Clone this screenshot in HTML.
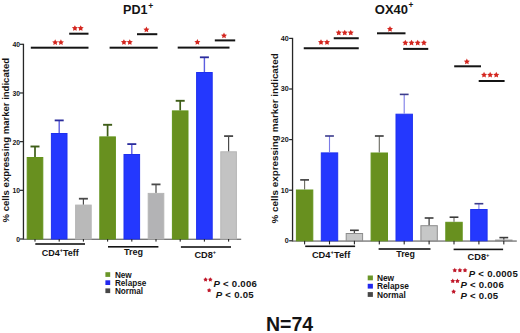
<!DOCTYPE html><html><head><meta charset="utf-8"><title>PD1 / OX40 expression</title><style>html,body{margin:0;padding:0;background:#fff;width:520px;height:333px;overflow:hidden}svg{display:block}text{font-family:"Liberation Sans", sans-serif}</style></head><body>
<svg width="520" height="333" viewBox="0 0 520 333">
<rect width="520" height="333" fill="#fff"/>
<rect x="22.80" y="43.70" width="1.3" height="195.90" fill="#262626"/>
<rect x="20.00" y="43.70" width="3" height="1.2" fill="#262626"/>
<text x="20.00" y="47.20" font-size="6.80" font-weight="bold" font-style="normal" text-anchor="end" fill="#141414" >40</text>
<rect x="20.00" y="92.38" width="3" height="1.2" fill="#262626"/>
<text x="20.00" y="95.88" font-size="6.80" font-weight="bold" font-style="normal" text-anchor="end" fill="#141414" >30</text>
<rect x="20.00" y="141.05" width="3" height="1.2" fill="#262626"/>
<text x="20.00" y="144.55" font-size="6.80" font-weight="bold" font-style="normal" text-anchor="end" fill="#141414" >20</text>
<rect x="20.00" y="189.72" width="3" height="1.2" fill="#262626"/>
<text x="20.00" y="193.22" font-size="6.80" font-weight="bold" font-style="normal" text-anchor="end" fill="#141414" >10</text>
<rect x="20.00" y="238.40" width="3" height="1.2" fill="#262626"/>
<text x="20.00" y="241.90" font-size="6.80" font-weight="bold" font-style="normal" text-anchor="end" fill="#141414" >0</text>
<rect x="23.00" y="238.70" width="218.20" height="1.1" fill="#5a5a5a"/>
<rect x="27.20" y="157.50" width="15.60" height="81.50" fill="#68901f" stroke="#63931b" stroke-width="1"/><rect x="34.15" y="146.50" width="1.70" height="10.50" fill="#3f5e18"/><rect x="30.50" y="145.55" width="9.00" height="1.90" fill="#3f5e18"/>
<rect x="34.45" y="239.00" width="1.1" height="2.60" fill="#262626"/>
<rect x="51.40" y="133.50" width="15.60" height="105.50" fill="#2438fe" stroke="#1f31ee" stroke-width="1"/><rect x="58.50" y="120.40" width="1.40" height="12.60" fill="#5c5ee0"/><rect x="54.70" y="119.50" width="9.00" height="1.80" fill="#2a2c9c"/>
<rect x="58.65" y="239.00" width="1.1" height="2.60" fill="#262626"/>
<rect x="75.60" y="205.10" width="15.60" height="33.90" fill="#b9b9b9" stroke="#b6b6b6" stroke-width="1"/><rect x="82.80" y="198.70" width="1.20" height="5.90" fill="#4a4a4a"/><rect x="78.90" y="197.80" width="9.00" height="1.80" fill="#4a4a4a"/>
<rect x="82.85" y="239.00" width="1.1" height="2.60" fill="#262626"/>
<rect x="99.80" y="136.90" width="15.60" height="102.10" fill="#68901f" stroke="#63931b" stroke-width="1"/><rect x="106.75" y="124.80" width="1.70" height="11.60" fill="#3f5e18"/><rect x="103.10" y="123.85" width="9.00" height="1.90" fill="#3f5e18"/>
<rect x="107.05" y="239.00" width="1.1" height="2.60" fill="#262626"/>
<rect x="124.00" y="154.50" width="15.60" height="84.50" fill="#2438fe" stroke="#1f31ee" stroke-width="1"/><rect x="131.10" y="144.10" width="1.40" height="9.90" fill="#5c5ee0"/><rect x="127.30" y="143.20" width="9.00" height="1.80" fill="#2a2c9c"/>
<rect x="131.25" y="239.00" width="1.1" height="2.60" fill="#262626"/>
<rect x="148.20" y="193.40" width="15.60" height="45.60" fill="#b3b3b5" stroke="#b6b6b6" stroke-width="1"/><rect x="155.40" y="184.40" width="1.20" height="8.50" fill="#4a4a4a"/><rect x="151.50" y="183.50" width="9.00" height="1.80" fill="#4a4a4a"/>
<rect x="155.45" y="239.00" width="1.1" height="2.60" fill="#262626"/>
<rect x="172.40" y="110.90" width="15.60" height="128.10" fill="#68901f" stroke="#63931b" stroke-width="1"/><rect x="179.35" y="100.80" width="1.70" height="9.60" fill="#3f5e18"/><rect x="175.70" y="99.85" width="9.00" height="1.90" fill="#3f5e18"/>
<rect x="179.65" y="239.00" width="1.1" height="2.60" fill="#262626"/>
<rect x="196.60" y="72.50" width="15.60" height="166.50" fill="#2438fe" stroke="#1f31ee" stroke-width="1"/><rect x="203.70" y="57.30" width="1.40" height="14.70" fill="#5c5ee0"/><rect x="199.90" y="56.40" width="9.00" height="1.80" fill="#2a2c9c"/>
<rect x="203.85" y="239.00" width="1.1" height="2.60" fill="#262626"/>
<rect x="220.80" y="151.80" width="15.60" height="87.20" fill="#c3c3c3" stroke="#b6b6b6" stroke-width="1"/><rect x="228.00" y="136.10" width="1.20" height="15.20" fill="#4a4a4a"/><rect x="224.10" y="135.20" width="9.00" height="1.80" fill="#4a4a4a"/>
<rect x="228.05" y="239.00" width="1.1" height="2.60" fill="#262626"/>
<rect x="35.30" y="243.20" width="49.70" height="1.60" fill="#141414"/>
<rect x="108.00" y="246.00" width="50.40" height="1.60" fill="#141414"/>
<rect x="180.90" y="246.20" width="50.10" height="1.60" fill="#141414"/>
<text x="60.30" y="255.60" font-size="9.00" font-weight="bold" font-style="normal" text-anchor="middle" fill="#141414" >CD4<tspan font-size="5.5" dy="-3.2">+</tspan><tspan dy="3.2">Teff</tspan></text>
<text x="133.60" y="254.80" font-size="9.00" font-weight="bold" font-style="normal" text-anchor="middle" fill="#141414" >Treg</text>
<text x="205.30" y="257.50" font-size="9.20" font-weight="bold" font-style="normal" text-anchor="middle" fill="#141414" >CD8<tspan font-size="5.6" dy="-3.3">+</tspan></text>
<rect x="30.80" y="46.70" width="57.70" height="2.00" fill="#141414"/>
<polygon points="55.17,39.37 56.10,41.24 58.17,41.54 56.67,43.00 57.03,45.06 55.17,44.09 53.32,45.06 53.68,43.00 52.18,41.54 54.25,41.24" fill="#d4261f"/><polygon points="60.92,39.37 61.85,41.24 63.92,41.54 62.42,43.00 62.78,45.06 60.92,44.09 59.07,45.06 59.43,43.00 57.93,41.54 60.00,41.24" fill="#d4261f"/>
<rect x="69.20" y="32.70" width="19.30" height="2.00" fill="#141414"/>
<polygon points="74.90,25.17 75.83,27.04 77.90,27.34 76.40,28.80 76.75,30.86 74.90,29.89 73.05,30.86 73.40,28.80 71.90,27.34 73.97,27.04" fill="#d4261f"/><polygon points="80.70,25.17 81.63,27.04 83.70,27.34 82.20,28.80 82.55,30.86 80.70,29.89 78.85,30.86 79.20,28.80 77.70,27.34 79.77,27.04" fill="#d4261f"/>
<rect x="109.60" y="46.70" width="48.10" height="2.00" fill="#141414"/>
<polygon points="123.92,39.16 124.85,41.04 126.92,41.34 125.42,42.80 125.78,44.86 123.92,43.89 122.07,44.86 122.43,42.80 120.93,41.34 123.00,41.04" fill="#d4261f"/><polygon points="129.77,39.16 130.70,41.04 132.77,41.34 131.27,42.80 131.63,44.86 129.77,43.89 127.92,44.86 128.28,42.80 126.78,41.34 128.85,41.04" fill="#d4261f"/>
<rect x="137.00" y="33.20" width="20.30" height="2.00" fill="#141414"/>
<polygon points="146.40,26.57 147.33,28.44 149.40,28.74 147.90,30.20 148.25,32.26 146.40,31.29 144.55,32.26 144.90,30.20 143.40,28.74 145.47,28.44" fill="#d4261f"/>
<rect x="177.70" y="46.60" width="51.80" height="2.00" fill="#141414"/>
<polygon points="197.40,39.02 198.33,40.89 200.40,41.19 198.90,42.65 199.25,44.71 197.40,43.74 195.55,44.71 195.90,42.65 194.40,41.19 196.47,40.89" fill="#d4261f"/>
<rect x="214.80" y="39.40" width="20.40" height="2.00" fill="#141414"/>
<polygon points="224.00,32.62 224.93,34.49 227.00,34.79 225.50,36.25 225.85,38.31 224.00,37.34 222.15,38.31 222.50,36.25 221.00,34.79 223.07,34.49" fill="#d4261f"/>
<text x="123.00" y="14.30" font-size="12.60" font-weight="bold" font-style="normal" text-anchor="start" fill="#141414" >PD1</text>
<text x="148.30" y="8.60" font-size="8.60" font-weight="bold" font-style="normal" text-anchor="start" fill="#141414" >+</text>
<text x="0.00" y="0.00" font-size="9.55" font-weight="bold" font-style="normal" text-anchor="middle" fill="#141414" transform="translate(9.1,140.2) rotate(-90)">% cells expressing marker indicated</text>
<rect x="105.4" y="272.20" width="4.8" height="4.7" fill="#6a9628"/>
<text x="114.90" y="277.50" font-size="8.20" font-weight="bold" font-style="normal" text-anchor="start" fill="#141414" >New</text>
<rect x="105.4" y="280.30" width="4.8" height="4.7" fill="#2228ee"/>
<text x="114.90" y="285.60" font-size="8.20" font-weight="bold" font-style="normal" text-anchor="start" fill="#141414" >Relapse</text>
<rect x="105.4" y="288.40" width="4.8" height="4.7" fill="#474747"/>
<text x="114.90" y="293.70" font-size="8.20" font-weight="bold" font-style="normal" text-anchor="start" fill="#141414" >Normal</text>
<polygon points="205.57,277.24 206.35,278.57 207.86,278.90 206.83,280.05 206.99,281.58 205.57,280.96 204.16,281.58 204.32,280.05 203.29,278.90 204.80,278.57" fill="#c0182a"/><polygon points="210.32,277.24 211.10,278.57 212.61,278.90 211.58,280.05 211.74,281.58 210.32,280.96 208.91,281.58 209.07,280.05 208.04,278.90 209.55,278.57" fill="#c0182a"/>
<text x="213.50" y="286.70" font-size="9.60" font-weight="bold" font-style="normal" text-anchor="start" fill="#141414" letter-spacing="0.25"><tspan font-style="italic">P</tspan> &lt; 0.006</text>
<polygon points="209.15,287.99 209.93,289.32 211.43,289.65 210.41,290.80 210.56,292.33 209.15,291.71 207.74,292.33 207.89,290.80 206.87,289.65 208.37,289.32" fill="#c0182a"/>
<text x="215.80" y="297.70" font-size="9.60" font-weight="bold" font-style="normal" text-anchor="start" fill="#141414" letter-spacing="0.25"><tspan font-style="italic">P</tspan> &lt; 0.05</text>
<rect x="291.90" y="37.80" width="1.3" height="203.60" fill="#262626"/>
<rect x="289.10" y="37.80" width="3" height="1.2" fill="#262626"/>
<text x="288.80" y="40.70" font-size="7.20" font-weight="bold" font-style="normal" text-anchor="end" fill="#141414" >40</text>
<rect x="289.10" y="88.40" width="3" height="1.2" fill="#262626"/>
<text x="288.80" y="91.30" font-size="7.20" font-weight="bold" font-style="normal" text-anchor="end" fill="#141414" >30</text>
<rect x="289.10" y="139.00" width="3" height="1.2" fill="#262626"/>
<text x="288.80" y="141.90" font-size="7.20" font-weight="bold" font-style="normal" text-anchor="end" fill="#141414" >20</text>
<rect x="289.10" y="189.60" width="3" height="1.2" fill="#262626"/>
<text x="288.80" y="192.50" font-size="7.20" font-weight="bold" font-style="normal" text-anchor="end" fill="#141414" >10</text>
<rect x="289.10" y="240.20" width="3" height="1.2" fill="#262626"/>
<text x="288.80" y="243.10" font-size="7.20" font-weight="bold" font-style="normal" text-anchor="end" fill="#141414" >0</text>
<rect x="292.10" y="240.50" width="224.70" height="1.1" fill="#5a5a5a"/>
<rect x="296.40" y="190.00" width="16.40" height="50.80" fill="#68901f" stroke="#63931b" stroke-width="1"/><rect x="304.05" y="179.90" width="1.10" height="9.60" fill="#6a6a60"/><rect x="300.20" y="179.10" width="8.80" height="1.60" fill="#3a3a3a"/>
<rect x="304.05" y="240.80" width="1.1" height="3.60" fill="#262626"/>
<rect x="321.30" y="152.90" width="16.40" height="87.90" fill="#2438fe" stroke="#1f31ee" stroke-width="1"/><rect x="328.95" y="136.00" width="1.10" height="16.40" fill="#7c7ce8"/><rect x="325.10" y="135.20" width="8.80" height="1.60" fill="#3c3c8c"/>
<rect x="328.95" y="240.80" width="1.1" height="3.60" fill="#262626"/>
<rect x="346.20" y="233.50" width="16.40" height="7.30" fill="#c6c7c7" stroke="#8c8c8c" stroke-width="1"/><rect x="353.75" y="230.30" width="1.30" height="2.70" fill="#4a4a4a"/><rect x="350.00" y="229.50" width="8.80" height="1.60" fill="#3c3c3c"/>
<rect x="353.85" y="240.80" width="1.1" height="3.60" fill="#262626"/>
<rect x="371.10" y="153.00" width="16.40" height="87.80" fill="#68901f" stroke="#63931b" stroke-width="1"/><rect x="378.75" y="136.00" width="1.10" height="16.50" fill="#6a6a60"/><rect x="374.90" y="135.20" width="8.80" height="1.60" fill="#3a3a3a"/>
<rect x="378.75" y="240.80" width="1.1" height="3.60" fill="#262626"/>
<rect x="396.00" y="114.20" width="16.40" height="126.60" fill="#2438fe" stroke="#1f31ee" stroke-width="1"/><rect x="403.65" y="94.40" width="1.10" height="19.30" fill="#7c7ce8"/><rect x="399.80" y="93.60" width="8.80" height="1.60" fill="#3c3c8c"/>
<rect x="403.65" y="240.80" width="1.1" height="3.60" fill="#262626"/>
<rect x="420.90" y="225.70" width="16.40" height="15.10" fill="#c6c7c7" stroke="#8c8c8c" stroke-width="1"/><rect x="428.45" y="218.00" width="1.30" height="7.20" fill="#4a4a4a"/><rect x="424.70" y="217.20" width="8.80" height="1.60" fill="#3c3c3c"/>
<rect x="428.55" y="240.80" width="1.1" height="3.60" fill="#262626"/>
<rect x="445.80" y="222.30" width="16.40" height="18.50" fill="#68901f" stroke="#63931b" stroke-width="1"/><rect x="453.45" y="217.20" width="1.10" height="4.60" fill="#6a6a60"/><rect x="449.60" y="216.40" width="8.80" height="1.60" fill="#3a3a3a"/>
<rect x="453.45" y="240.80" width="1.1" height="3.60" fill="#262626"/>
<rect x="470.70" y="209.50" width="16.40" height="31.30" fill="#2438fe" stroke="#1f31ee" stroke-width="1"/><rect x="478.35" y="203.70" width="1.10" height="5.30" fill="#7c7ce8"/><rect x="474.50" y="202.90" width="8.80" height="1.60" fill="#3c3c8c"/>
<rect x="478.35" y="240.80" width="1.1" height="3.60" fill="#262626"/>
<rect x="495.60" y="240.10" width="16.40" height="0.70" fill="#c6c7c7" stroke="#8c8c8c" stroke-width="1"/><rect x="503.15" y="237.60" width="1.30" height="2.00" fill="#4a4a4a"/><rect x="499.40" y="236.80" width="8.80" height="1.60" fill="#3c3c3c"/>
<rect x="503.25" y="240.80" width="1.1" height="3.60" fill="#262626"/>
<rect x="305.20" y="245.50" width="49.90" height="1.60" fill="#141414"/>
<rect x="378.60" y="248.20" width="51.90" height="1.60" fill="#141414"/>
<rect x="453.60" y="248.60" width="49.50" height="1.60" fill="#141414"/>
<text x="331.10" y="257.60" font-size="9.30" font-weight="bold" font-style="normal" text-anchor="middle" fill="#141414" >CD4<tspan font-size="5.8" dy="-3.3">+</tspan><tspan dy="3.3">Teff</tspan></text>
<text x="405.60" y="257.30" font-size="8.90" font-weight="bold" font-style="normal" text-anchor="middle" fill="#141414" >Treg</text>
<text x="478.50" y="259.80" font-size="9.20" font-weight="bold" font-style="normal" text-anchor="middle" fill="#141414" >CD8<tspan font-size="5.8" dy="-3.3">+</tspan></text>
<rect x="303.75" y="47.25" width="55.00" height="2.00" fill="#141414"/>
<polygon points="321.00,39.16 321.93,41.04 324.00,41.34 322.50,42.80 322.85,44.86 321.00,43.89 319.15,44.86 319.50,42.80 318.00,41.34 320.07,41.04" fill="#d4261f"/><polygon points="327.00,39.16 327.93,41.04 330.00,41.34 328.50,42.80 328.85,44.86 327.00,43.89 325.15,44.86 325.50,42.80 324.00,41.34 326.07,41.04" fill="#d4261f"/>
<rect x="333.75" y="37.25" width="25.00" height="2.00" fill="#141414"/>
<polygon points="338.75,29.66 339.68,31.54 341.75,31.84 340.25,33.30 340.60,35.36 338.75,34.39 336.90,35.36 337.25,33.30 335.75,31.84 337.82,31.54" fill="#d4261f"/><polygon points="344.75,29.66 345.68,31.54 347.75,31.84 346.25,33.30 346.60,35.36 344.75,34.39 342.90,35.36 343.25,33.30 341.75,31.84 343.82,31.54" fill="#d4261f"/><polygon points="350.75,29.66 351.68,31.54 353.75,31.84 352.25,33.30 352.60,35.36 350.75,34.39 348.90,35.36 349.25,33.30 347.75,31.84 349.82,31.54" fill="#d4261f"/>
<rect x="377.00" y="32.30" width="28.50" height="2.00" fill="#141414"/>
<polygon points="390.00,25.97 390.93,27.84 393.00,28.14 391.50,29.60 391.85,31.66 390.00,30.69 388.15,31.66 388.50,29.60 387.00,28.14 389.07,27.84" fill="#d4261f"/>
<rect x="403.20" y="47.90" width="25.05" height="2.00" fill="#141414"/>
<polygon points="405.30,39.71 406.23,41.59 408.30,41.89 406.80,43.35 407.15,45.41 405.30,44.44 403.45,45.41 403.80,43.35 402.30,41.89 404.37,41.59" fill="#d4261f"/><polygon points="411.50,39.71 412.43,41.59 414.50,41.89 413.00,43.35 413.35,45.41 411.50,44.44 409.65,45.41 410.00,43.35 408.50,41.89 410.57,41.59" fill="#d4261f"/><polygon points="417.70,39.71 418.63,41.59 420.70,41.89 419.20,43.35 419.55,45.41 417.70,44.44 415.85,45.41 416.20,43.35 414.70,41.89 416.77,41.59" fill="#d4261f"/><polygon points="423.90,39.71 424.83,41.59 426.90,41.89 425.40,43.35 425.75,45.41 423.90,44.44 422.05,45.41 422.40,43.35 420.90,41.89 422.97,41.59" fill="#d4261f"/>
<rect x="454.20" y="65.30" width="26.80" height="2.00" fill="#141414"/>
<polygon points="466.85,58.52 467.78,60.39 469.85,60.69 468.35,62.15 468.70,64.21 466.85,63.24 465.00,64.21 465.35,62.15 463.85,60.69 465.92,60.39" fill="#d4261f"/>
<rect x="478.70" y="80.00" width="25.90" height="2.00" fill="#141414"/>
<polygon points="484.05,71.81 484.98,73.69 487.05,73.99 485.55,75.45 485.90,77.51 484.05,76.54 482.20,77.51 482.55,75.45 481.05,73.99 483.12,73.69" fill="#d4261f"/><polygon points="490.15,71.81 491.08,73.69 493.15,73.99 491.65,75.45 492.00,77.51 490.15,76.54 488.30,77.51 488.65,75.45 487.15,73.99 489.22,73.69" fill="#d4261f"/><polygon points="496.25,71.81 497.18,73.69 499.25,73.99 497.75,75.45 498.10,77.51 496.25,76.54 494.40,77.51 494.75,75.45 493.25,73.99 495.32,73.69" fill="#d4261f"/>
<text x="374.80" y="14.40" font-size="13.00" font-weight="bold" font-style="normal" text-anchor="start" fill="#141414" >OX40</text>
<text x="408.40" y="8.40" font-size="8.40" font-weight="bold" font-style="normal" text-anchor="start" fill="#141414" >+</text>
<text x="0.00" y="0.00" font-size="9.90" font-weight="bold" font-style="normal" text-anchor="middle" fill="#141414" transform="translate(278.1,138.4) rotate(-90)">% cells expressing marker indicated</text>
<rect x="367.7" y="275.50" width="5.2" height="4.8" fill="#6a9628"/>
<text x="376.90" y="281.10" font-size="8.40" font-weight="bold" font-style="normal" text-anchor="start" fill="#141414" >New</text>
<rect x="367.7" y="283.80" width="5.2" height="4.8" fill="#2228ee"/>
<text x="376.90" y="289.40" font-size="8.40" font-weight="bold" font-style="normal" text-anchor="start" fill="#141414" >Relapse</text>
<rect x="367.7" y="292.10" width="5.2" height="4.8" fill="#474747"/>
<text x="376.90" y="297.70" font-size="8.40" font-weight="bold" font-style="normal" text-anchor="start" fill="#141414" >Normal</text>
<polygon points="454.77,267.80 455.57,269.19 457.14,269.53 456.07,270.72 456.24,272.32 454.77,271.67 453.30,272.32 453.46,270.72 452.39,269.53 453.96,269.19" fill="#c0182a"/><polygon points="459.90,267.80 460.71,269.19 462.28,269.53 461.21,270.72 461.37,272.32 459.90,271.67 458.43,272.32 458.59,270.72 457.52,269.53 459.09,269.19" fill="#c0182a"/><polygon points="465.03,267.80 465.84,269.19 467.41,269.53 466.34,270.72 466.50,272.32 465.03,271.67 463.56,272.32 463.73,270.72 462.66,269.53 464.23,269.19" fill="#c0182a"/>
<text x="468.80" y="277.20" font-size="9.60" font-weight="bold" font-style="normal" text-anchor="start" fill="#141414" letter-spacing="0.25"><tspan font-style="italic">P</tspan> &lt; 0.0005</text>
<polygon points="452.75,278.50 453.56,279.89 455.13,280.23 454.06,281.42 454.22,283.02 452.75,282.38 451.28,283.02 451.44,281.42 450.37,280.23 451.94,279.89" fill="#c0182a"/><polygon points="457.45,278.50 458.26,279.89 459.83,280.23 458.76,281.42 458.92,283.02 457.45,282.38 455.98,283.02 456.14,281.42 455.07,280.23 456.64,279.89" fill="#c0182a"/>
<text x="460.40" y="288.40" font-size="9.60" font-weight="bold" font-style="normal" text-anchor="start" fill="#141414" letter-spacing="0.25"><tspan font-style="italic">P</tspan> &lt; 0.006</text>
<polygon points="453.65,289.20 454.46,290.59 456.03,290.93 454.96,292.12 455.12,293.72 453.65,293.08 452.18,293.72 452.34,292.12 451.27,290.93 452.84,290.59" fill="#c0182a"/>
<text x="460.40" y="298.80" font-size="9.60" font-weight="bold" font-style="normal" text-anchor="start" fill="#141414" letter-spacing="0.25"><tspan font-style="italic">P</tspan> &lt; 0.05</text>
<text x="289.50" y="330.80" font-size="19.50" font-weight="bold" font-style="normal" text-anchor="middle" fill="#141414" >N=74</text>
</svg></body></html>
